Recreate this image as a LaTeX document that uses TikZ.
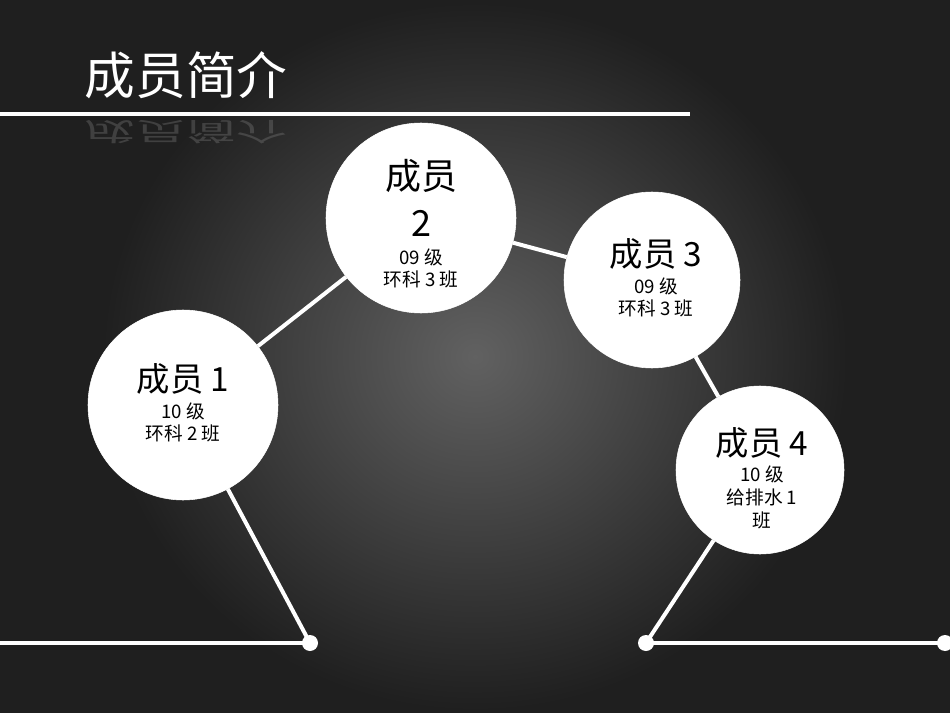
\documentclass[tikz,border=0pt]{standalone}
\usepackage{fontspec}
\setmainfont{Noto Sans CJK SC}
\begin{document}
\begin{tikzpicture}[x=0.75pt,y=-0.75pt,
  mem/.style={circle,fill=white,draw=white,inner sep=0pt,align=center,text=black},
  conn/.style={white,line width=3pt},
  endpt/.style={circle,fill=white,inner sep=0pt,minimum size=12pt},
  ]
\useasboundingbox (0,0) rectangle (950,713);
\fill[black!88] (0,0) rectangle (950,713);
\shade[inner color=black!62,outer color=black!88] (100,0) rectangle (850,713);
\node[text=white,anchor=west,font=\fontsize{38}{40}\selectfont] (title) at (80,75) {成员简介};
\node[text=gray,opacity=0.35,anchor=west,yscale=-0.5,font=\fontsize{38}{40}\selectfont] (refl) at (80,132) {成员简介};
\coordinate (hl1) at (0,114); \coordinate (hl2) at (690,114);
\draw[white,line width=2.5pt] (hl1) -- (hl2);
\node[mem,minimum size=142.5pt] (m1) at (183,405) {};
\node[mem,minimum size=142.5pt] (m2) at (421,218) {};
\node[mem,minimum size=132pt] (m3) at (652,280) {};
\node[mem,minimum size=126pt] (m4) at (760,470) {};
\node[align=center,font=\fontsize{14}{17}\selectfont] at (183,403) {{\fontsize{25}{30}\selectfont 成员 1}\\[3pt]10 级\\环科 2 班};
\node[align=center,font=\fontsize{14}{17}\selectfont] at (421,224) {{\fontsize{27}{34}\selectfont 成员}\\[12pt]{\fontsize{27}{34}\selectfont 2}\\[4pt]09 级\\环科 3 班};
\node[align=center,font=\fontsize{14}{17}\selectfont] at (656,278) {{\fontsize{25}{30}\selectfont 成员 3}\\[3pt]09 级\\环科 3 班};
\node[align=center,font=\fontsize{14}{17}\selectfont] at (762,478) {{\fontsize{25}{30}\selectfont 成员 4}\\[3pt]10 级\\给排水 1\\班};
\node[endpt] (d1) at (310,643) {};
\node[endpt] (d2) at (646,643) {};
\node[endpt] (d3) at (945,643) {};
\coordinate (l0) at (0,643);
\draw[conn] (l0) -- (d1.center);
\draw[conn] (d1.center) -- (m1);
\draw[conn] (m1) -- (m2);
\draw[conn] (m2) -- (m3);
\draw[conn] (m3) -- (m4);
\draw[conn] (m4) -- (d2.center);
\draw[conn] (d2.center) -- (d3.center);
\end{tikzpicture}
\end{document}
